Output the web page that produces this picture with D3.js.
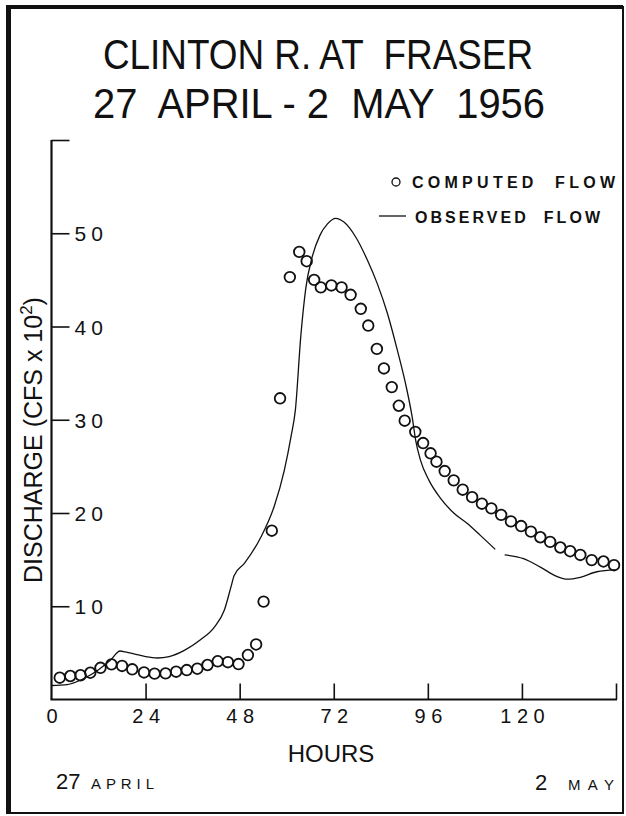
<!DOCTYPE html>
<html>
<head>
<meta charset="utf-8">
<script src="https://cdn.jsdelivr.net/npm/d3@7"></script>
<style>
  html, body { margin: 0; padding: 0; background: #fff; }
  svg { display: block; }
  text { font-family: "Liberation Sans", Arial, Helvetica, sans-serif; fill: #111; }
</style>
</head>
<body>
<script>
// ---- Data ----
const titleLines = ["CLINTON R. AT  FRASER", "27  APRIL - 2  MAY  1956"];
const xTicks = [0, 24, 48, 72, 96, 120, 144];
const xTickLabels = ["0", "24", "48", "72", "96", "120", ""];
const yTicks = [10, 20, 30, 40, 50, 60];
const yTickLabels = ["10", "20", "30", "40", "50", ""];

// Computed flow (circles): hours, discharge (cfs x 10^2)
const computedHours = [2.1, 4.8, 7.4, 9.9, 12.5, 15.3, 18.0, 20.6, 23.6, 26.3, 29.1, 31.8, 34.5, 37.2, 39.8, 42.4, 45.0, 47.7, 50.1, 52.2,
  54.1, 56.2, 58.3, 60.8, 63.2, 65.1, 67.0, 68.7, 71.4, 74.0, 76.3, 78.9, 80.8, 83.0, 84.8, 86.8, 88.6, 90.1, 92.8, 94.8,
  96.7, 98.2, 100.3, 102.6, 104.9, 107.3, 109.8, 112.2, 114.7, 117.2, 119.8, 122.3, 124.7, 127.2, 129.8, 132.3, 134.9, 137.8, 140.8, 143.5];
const computedFlow = [2.34, 2.52, 2.6, 2.87, 3.4, 3.77, 3.6, 3.24, 2.9, 2.77, 2.8, 2.98, 3.16, 3.3, 3.7, 4.1, 4.0, 3.8, 4.77, 5.9,
  10.5, 18.1, 32.3, 45.3, 48.0, 47.0, 45.0, 44.2, 44.4, 44.2, 43.4, 41.9, 40.1, 37.6, 35.5, 33.5, 31.5, 29.9, 28.7, 27.5,
  26.4, 25.5, 24.5, 23.5, 22.5, 21.7, 21.0, 20.5, 19.8, 19.1, 18.6, 18.0, 17.4, 16.9, 16.3, 15.9, 15.5, 14.95, 14.8, 14.4];

// Observed flow (line); null marks the break in the trace
const observedHours = [0, 4, 8, 12, 15, 17.5, 18.8, 21, 24, 27, 30, 34, 38, 41.6, 44.1, 45.8, 46.6, 49.2, 53.4, 56.8,
  59.4, 61.1, 62.2, 63.6, 64.9, 66.4, 68.5, 70.4, 72.5, 74.6, 77.6, 80.6, 83.1, 85.7, 88.2, 90.3, 92.0, 92.9, 94.1, 96.3,
  99.2, 102.6, 106.0, 109.4, 113.2, 114.4, 115.6, 120.4, 124.7, 128.9, 131.5, 134.9, 139.1, 144];
const observedFlow = [1.5, 1.6, 2.2, 3.2, 4.2, 5.2, 5.1, 4.9, 4.6, 4.45, 4.6, 5.3, 6.4, 7.8, 9.6, 12.1, 13.3, 14.6, 17.4, 20.7,
  24.6, 28.2, 31.0, 39.0, 44.2, 47.3, 49.8, 51.0, 51.6, 51.2, 49.6, 47.1, 44.6, 41.4, 37.5, 33.9, 30.3, 27.8, 25.7, 23.5,
  21.6, 20.0, 18.9, 17.6, 16.1, null, 15.5, 15.1, 14.2, 13.2, 12.9, 13.1, 13.7, 13.9];

const legendLabels = ["COMPUTED  FLOW", "OBSERVED  FLOW"];

// ---- Drawing ----
const W = 626, H = 816;
const svg = d3.select("body").append("svg").attr("width", W).attr("height", H);
svg.append("rect").attr("width", W).attr("height", H).attr("fill", "#fff");

// frame
svg.append("rect").attr("x", 8.5).attr("y", 7).attr("width", 614.5).attr("height", 806)
  .attr("fill", "none").attr("stroke", "#111").attr("stroke-width", 2);
svg.append("line").attr("x1", 8.5).attr("x2", 8.5).attr("y1", 5).attr("y2", 814).attr("stroke", "#111").attr("stroke-width", 5);
svg.append("line").attr("x1", 6).attr("x2", 623).attr("y1", 7).attr("y2", 7).attr("stroke", "#111").attr("stroke-width", 4);

// title
svg.append("text").attr("x", 318).attr("y", 69).attr("text-anchor", "middle")
  .style("white-space", "pre").style("font-size", "43px")
  .attr("textLength", 430).attr("lengthAdjust", "spacingAndGlyphs").text(titleLines[0]);
svg.append("text").attr("x", 319).attr("y", 118).attr("text-anchor", "middle")
  .style("white-space", "pre").style("font-size", "43px")
  .attr("textLength", 452).attr("lengthAdjust", "spacingAndGlyphs").text(titleLines[1]);

const x = d3.scaleLinear().domain([0, 144]).range([51.5, 616]);
const y = d3.scaleLinear().domain([0, 60]).range([699.5, 140]);

// x axis (ticks pointing up, labels below)
const xAxis = d3.axisBottom(x).tickValues(xTicks).tickSize(-16).tickPadding(0)
  .tickFormat((d, i) => xTickLabels[i]);
const gx = svg.append("g").attr("transform", `translate(0,${y(0)})`).call(xAxis);
gx.select(".domain").attr("stroke", "#111").attr("stroke-width", 2).attr("d", `M${x(0) - 1},0H${x(144) + 1}`);
gx.selectAll(".tick line").attr("stroke", "#111").attr("stroke-width", 1.6);
gx.selectAll(".tick").filter(d => d === 0).select("line").remove();
gx.selectAll(".tick text").attr("y", 23).attr("dy", 0).attr("dx", 2.8)
  .style("font-size", "20px").style("letter-spacing", "5.5px").attr("fill", "#111");

// y axis (ticks and labels to the right of the line)
const yAxis = d3.axisRight(y).tickValues(yTicks).tickSize(18).tickPadding(5)
  .tickFormat((d, i) => yTickLabels[i]);
const gy = svg.append("g").attr("transform", `translate(${x(0)},0)`).call(yAxis);
gy.select(".domain").attr("stroke", "#111").attr("stroke-width", 2.2).attr("d", `M0,${y(0)}V${y(60)}`);
gy.selectAll(".tick line").attr("stroke", "#111").attr("stroke-width", 1.6);
gy.selectAll(".tick text").attr("dy", "0.36em")
  .style("font-size", "21px").style("letter-spacing", "5px").attr("fill", "#111");

// y axis title
const yt = svg.append("text").attr("transform", "translate(42,440) rotate(-90)")
  .attr("text-anchor", "middle").style("font-size", "25px");
yt.append("tspan").text("DISCHARGE (CFS x 10");
yt.append("tspan").attr("dy", -10).style("font-size", "17px").text("2");
yt.append("tspan").attr("dy", 10).text(")");

// observed line
const obs = observedHours.map((h, i) => ({ h, v: observedFlow[i] }));
const line = d3.line().defined(d => d.v !== null).x(d => x(d.h)).y(d => y(d.v)).curve(d3.curveMonotoneX);
svg.append("path").datum(obs).attr("d", line).attr("fill", "none")
  .attr("stroke", "#111").attr("stroke-width", 1.3);

// computed circles
const comp = computedHours.map((h, i) => ({ h, v: computedFlow[i] }));
svg.append("g").selectAll("circle").data(comp).join("circle")
  .attr("cx", d => x(d.h)).attr("cy", d => y(d.v)).attr("r", 5.3)
  .attr("fill", "none").attr("stroke", "#111").attr("stroke-width", 1.8);

// legend
svg.append("circle").attr("cx", 396).attr("cy", 182).attr("r", 4).attr("fill", "none")
  .attr("stroke", "#111").attr("stroke-width", 1.3);
svg.append("text").attr("x", 412).attr("y", 188).style("white-space", "pre")
  .style("font-size", "16px").style("font-weight", "bold")
  .attr("textLength", 203).attr("lengthAdjust", "spacing").text(legendLabels[0]);
svg.append("line").attr("x1", 379).attr("x2", 406).attr("y1", 216).attr("y2", 216)
  .attr("stroke", "#111").attr("stroke-width", 1.3);
svg.append("text").attr("x", 415).attr("y", 223).style("white-space", "pre")
  .style("font-size", "16px").style("font-weight", "bold")
  .attr("textLength", 185).attr("lengthAdjust", "spacing").text(legendLabels[1]);

// x axis title and dates
svg.append("text").attr("x", 331).attr("y", 762).attr("text-anchor", "middle")
  .style("font-size", "24px").text("HOURS");
svg.append("text").attr("x", 56).attr("y", 789).style("font-size", "22px").text("27");
svg.append("text").attr("x", 91).attr("y", 789).style("font-size", "15px")
  .attr("textLength", 63).attr("lengthAdjust", "spacing").text("APRIL");
svg.append("text").attr("x", 535).attr("y", 790).style("font-size", "22px").text("2");
svg.append("text").attr("x", 568).attr("y", 790).style("font-size", "15px")
  .attr("textLength", 46).attr("lengthAdjust", "spacing").text("MAY");
</script>
</body>
</html>
